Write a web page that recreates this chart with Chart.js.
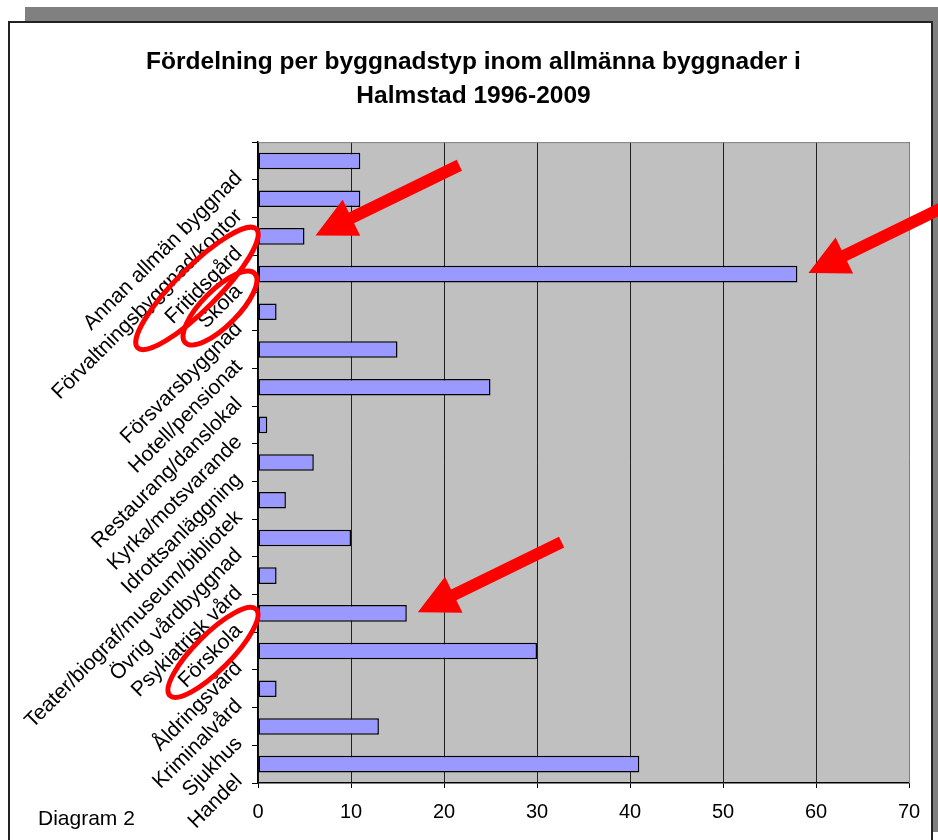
<!DOCTYPE html>
<html>
<head>
<meta charset="utf-8">
<title>Fördelning per byggnadstyp</title>
<script src="https://cdn.jsdelivr.net/npm/chart.js@4.4.1/dist/chart.umd.min.js"></script>
<style>
  html, body { margin: 0; padding: 0; background: #fff; overflow: hidden; }
  #wrap { position: relative; width: 938px; height: 840px; overflow: hidden; }
  #shadow { position: absolute; left: 25px; top: 7px; width: 913px; height: 825px; background: #808080; }
  #frame { position: absolute; left: 8px; top: 21px; width: 921px; height: 850px; background: #fff; border: 2px solid #222; }
  #chart { position: absolute; left: 0; top: 0; }
</style>
</head>
<body>
<div id="wrap">
  <div id="shadow"></div>
  <div id="frame"></div>
  <canvas id="chart" width="938" height="840"></canvas>
</div>
<script>
// Data
const categories = [
  "Annan allmän byggnad", "Förvaltningsbyggnad/kontor", "Fritidsgård", "Skola",
  "Försvarsbyggnad", "Hotell/pensionat", "Restaurang/danslokal", "Kyrka/motsvarande",
  "Idrottsanläggning", "Teater/biograf/museum/bibliotek", "Övrig vårdbyggnad",
  "Psykiatrisk vård", "Förskola", "Åldringsvård", "Kriminalvård", "Sjukhus", "Handel"
];
const counts = [11, 11, 5, 58, 2, 15, 25, 1, 6, 3, 10, 2, 16, 30, 2, 13, 41];
const xTicks = [0, 10, 20, 30, 40, 50, 60, 70];
const highlighted = ["Fritidsgård", "Skola", "Förskola"];
const titleLines = ["Fördelning per byggnadstyp inom allmänna byggnader i", "Halmstad 1996-2009"];
const footnote = "Diagram 2";

Chart.defaults.font.family = '"Liberation Sans", Arial, sans-serif';
Chart.defaults.color = '#000';

// Red arrow pointing left-down at (tx, ty)
const drawArrow = (ctx, tx, ty) => {
  const ang = 26 * Math.PI / 180;
  const ux = Math.cos(ang), uy = -Math.sin(ang);
  const px = -uy, py = ux;
  const len = 160, head = 40, hw = 20, sw = 6;
  const bx = tx + ux * head, by = ty + uy * head;
  ctx.beginPath();
  ctx.moveTo(tx, ty);
  ctx.lineTo(bx + px * hw, by + py * hw);
  ctx.lineTo(bx + px * sw, by + py * sw);
  ctx.lineTo(tx + ux * len + px * sw, ty + uy * len + py * sw);
  ctx.lineTo(tx + ux * len - px * sw, ty + uy * len - py * sw);
  ctx.lineTo(bx - px * sw, by - py * sw);
  ctx.lineTo(bx - px * hw, by - py * hw);
  ctx.closePath();
  ctx.fill();
};

const decorations = {
  id: 'decorations',
  afterLayout(chart) {
    // the title sits a little right of the canvas centre
    const t = chart.titleBlock;
    if (t) { t.left += 14; t.right += 14; }
  },
  beforeDraw(chart) {
    const { ctx, chartArea: a } = chart;
    ctx.save();
    ctx.fillStyle = '#c0c0c0';
    ctx.fillRect(a.left, a.top, a.right - a.left, a.bottom - a.top);
    ctx.restore();
  },
  afterDraw(chart) {
    const { ctx, chartArea: a, scales: { x, y } } = chart;
    ctx.save();
    // plot area border (top/right)
    ctx.strokeStyle = '#808080';
    ctx.lineWidth = 1;
    ctx.beginPath();
    ctx.moveTo(a.left, a.top + 0.5);
    ctx.lineTo(a.right + 0.5, a.top + 0.5);
    ctx.lineTo(a.right + 0.5, a.bottom);
    ctx.stroke();

    // footnote
    ctx.fillStyle = '#000';
    ctx.font = '21px "Liberation Sans", Arial, sans-serif';
    ctx.textBaseline = 'alphabetic';
    ctx.fillText(footnote, 38, 825);

    // arrows at the highlighted bars
    ctx.fillStyle = '#ff0000';
    highlighted.forEach((name) => {
      const i = categories.indexOf(name);
      drawArrow(ctx, x.getPixelForValue(counts[i]) + 11, y.getPixelForValue(i) - 1);
    });

    // ellipses around the highlighted labels
    ctx.strokeStyle = '#ff0000';
    ctx.lineWidth = 5;
    const rings = [
      { name: "Fritidsgård", dx: -61, dy: 52, ra: 84, rb: 21 },
      { name: "Skola", dx: -38, dy: 34, ra: 49, rb: 18 },
      { name: "Förskola", dx: -45, dy: 39, ra: 61, rb: 18 }
    ];
    rings.forEach((r) => {
      const cy = y.getPixelForValue(categories.indexOf(r.name)) + r.dy;
      ctx.beginPath();
      ctx.ellipse(a.left + r.dx, cy, r.ra, r.rb, -Math.PI / 4, 0, Math.PI * 2);
      ctx.stroke();
    });
    ctx.restore();
  }
};

new Chart(document.getElementById('chart'), {
  type: 'bar',
  data: {
    labels: categories,
    datasets: [{
      data: counts,
      backgroundColor: '#9999ff',
      borderColor: '#000',
      borderWidth: 1.5,
      borderSkipped: false,
      barPercentage: 0.44,
      categoryPercentage: 1
    }]
  },
  options: {
    indexAxis: 'y',
    responsive: false,
    animation: false,
    layout: {
      padding: { top: 0, right: 29, bottom: 17, left: 10 }
    },
    scales: {
      x: {
        min: 0,
        max: 70,
        afterBuildTicks: (scale) => { scale.ticks = xTicks.map(v => ({ value: v })); },
        afterFit: (scale) => { scale.height = 40; },
        grid: { color: '#202020', lineWidth: 1, tickLength: 5, tickColor: '#000' },
        border: { color: '#000', width: 1.5 },
        ticks: { font: { size: 20 }, padding: 12, color: '#000' }
      },
      y: {
        afterFit: (scale) => { scale.width = 248; },
        grid: { drawOnChartArea: false, tickLength: 6, tickColor: '#000', offset: true },
        border: { color: '#000', width: 1.5 },
        ticks: {
          font: { size: 21 },
          minRotation: 45,
          maxRotation: 45,
          padding: 13,
          labelOffset: 14,
          autoSkip: false,
          color: '#000'
        }
      }
    },
    plugins: {
      legend: { display: false },
      tooltip: { enabled: false },
      title: {
        display: true,
        text: titleLines,
        color: '#000',
        font: { size: 24.5, weight: 'bold', lineHeight: 1.36 },
        padding: { top: 46, bottom: 29.5 }
      }
    }
  },
  plugins: [decorations]
});
</script>
</body>
</html>
